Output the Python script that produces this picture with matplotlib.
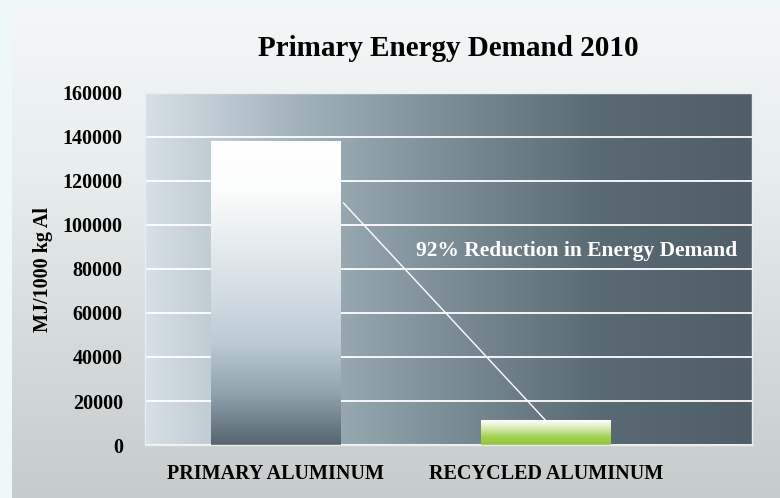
import numpy as np
import matplotlib.pyplot as plt
from matplotlib.colors import LinearSegmentedColormap

# данные
categories = ['PRIMARY ALUMINUM', 'RECYCLED ALUMINUM']
energy = [138000, 11000]
y_ticks = [0, 20000, 40000, 60000, 80000, 100000, 120000, 140000, 160000]
note_text = '92% Reduction in Energy Demand'
note_start = (0.25, 110000)   # начало линии-указателя
note_pos = (1.115, 88000)     # положение подписи

plt.rcParams['font.family'] = ['Liberation Serif', 'DejaVu Serif']
plt.rcParams['font.weight'] = 'bold'

fig = plt.figure(figsize=(7.8, 4.98), dpi=100)
fig.patch.set_facecolor('#eef8f8')

# фоновая панель (светлый металл)
bg = fig.add_axes([12 / 780, 0, 1 - 12 / 780, 1 - 8 / 498])
bg_cmap = LinearSegmentedColormap.from_list('bg', ['#f3f7f7', '#e8eded', '#d6dbdb', '#c6cbcb'])
bg.imshow(np.linspace(0, 1, 256).reshape(-1, 1), cmap=bg_cmap, aspect='auto',
          extent=[0, 1, 0, 1], origin='upper')
bg.set_axis_off()

ax = fig.add_axes([145 / 780, 1 - 445 / 498, (752 - 145) / 780, (445 - 93) / 498])
x = np.arange(len(categories))

# градиент области построения
area_cmap = LinearSegmentedColormap.from_list('area', ['#d6e0e6', '#a3b3bb', '#7c8d97', '#5a6a74', '#4f5e68'])
ax.imshow(np.linspace(0, 1, 256).reshape(1, -1), cmap=area_cmap, aspect='auto',
          extent=[0, 1, 0, 1], transform=ax.transAxes, zorder=0)

ax.set_yticks(y_ticks)
ax.grid(axis='y', color='white', linewidth=1.3, zorder=1)
ax.set_axisbelow(True)

# столбцы с вертикальным градиентом
bar_cmaps = [
    LinearSegmentedColormap.from_list('b0', ['#56656f', '#8fa2ad', '#bccbd4', '#d3dde3', '#e6ecef', '#fbfcfc', '#ffffff']),
    LinearSegmentedColormap.from_list('b1', ['#8fc83a', '#a6d155', '#d6ebb0', '#ffffff']),
]
bars = ax.bar(x, energy, width=0.48, color='none', zorder=2)
for b, cm in zip(bars, bar_cmaps):
    x0, w, h = b.get_x(), b.get_width(), b.get_height()
    ax.imshow(np.linspace(0, 1, 256).reshape(-1, 1), cmap=cm, aspect='auto',
              extent=[x0, x0 + w, 0, h], origin='lower', zorder=2)
ax.set_xlim(-0.485, 1.763)
ax.set_ylim(0, 160000)

# линия-указатель и подпись
ax.plot([note_start[0], x[1]], [note_start[1], energy[1]], color='white', linewidth=1, zorder=3)
ax.text(note_pos[0], note_pos[1], note_text, color='white', fontsize=15.5,
        fontweight='bold', ha='center', va='center', zorder=4)

ax.set_xticks(x)
ax.set_xticklabels(categories, fontsize=14.5, fontweight='bold')
ax.tick_params(axis='x', length=0, pad=14)
ax.tick_params(axis='y', length=0, pad=16, labelsize=14.5)
for lab in ax.get_yticklabels():
    lab.set_fontweight('bold')
for s in ax.spines.values():
    s.set_color('#e8eeee')
    s.set_linewidth(1)

ax.set_ylabel('MJ/1000 kg Al', fontsize=14.5, fontweight='bold', labelpad=7)
fig.text(448 / 780, 1 - 48 / 498, 'Primary Energy Demand 2010', fontsize=21,
         fontweight='bold', ha='center', va='center')

fig.savefig('out.png', dpi=100)
